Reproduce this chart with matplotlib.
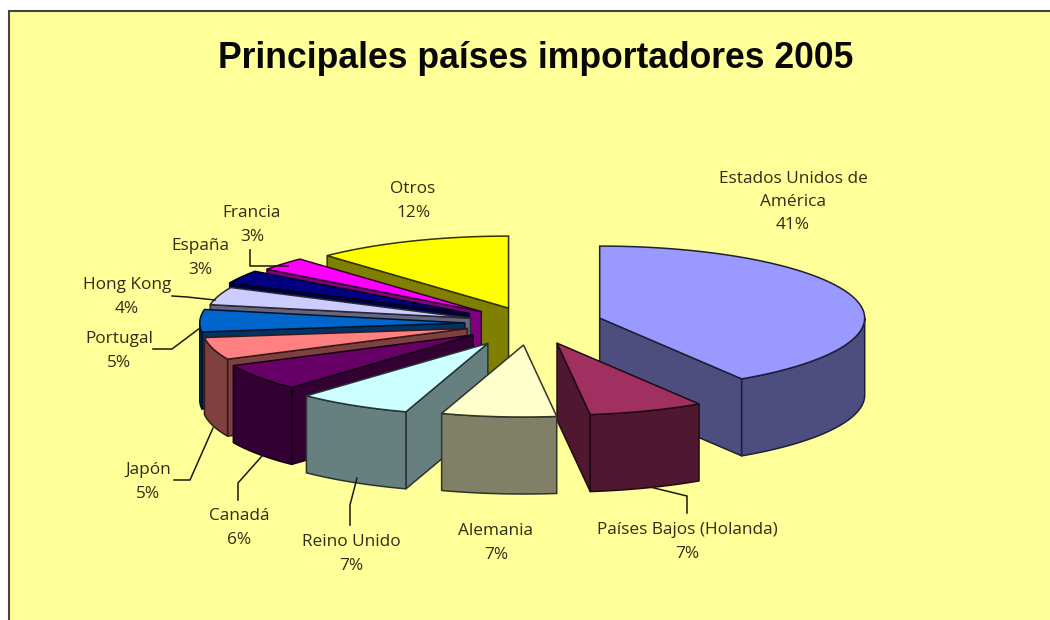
#!/usr/bin/python3

# exploded 3d pie, drawn by hand because matplotlib has no 3d pie

import numpy as np
import matplotlib
matplotlib.use('Agg')
from matplotlib import pyplot as plt
from matplotlib.patches import Polygon, Rectangle
from matplotlib.colors import to_rgb

title = "Principales países importadores 2005"
countries = ["Estados Unidos de\nAmérica", "Países Bajos (Holanda)", "Alemania", "Reino Unido",
             "Canadá", "Japón", "Portugal", "Hong Kong", "España", "Francia", "Otros"]
shares = [41, 7, 7, 7, 6, 5, 5, 4, 3, 3, 12]

colors = ["#9999FF", "#A0305F", "#FFFFCC", "#CCFFFF", "#660066", "#FF8080",
          "#0066CC", "#CCCCFF", "#000080", "#FF00FF", "#FFFF00"]
explode = [0.27, 0.29, 0.30, 0.32, 0.27, 0.25, 0.25, 0.24, 0.27, 0.25, 0.23]

# label centres in pixels, and the leader lines
label_pos = [(793, 202), (687, 542), (496, 543), (351, 554), (239, 528), (148, 482),
             (119, 351), (127, 297), (200, 258), (252, 225), (413, 201)]
leaders = [[(687, 513), (687, 496), (650, 487)],
           [(350, 525), (350, 505), (357, 478)],
           [(238, 500), (238, 483), (262, 456)],
           [(174, 480), (190, 480), (213, 428)],
           [(153, 349), (172, 349), (200, 328)],
           [(172, 296), (187, 297), (215, 300)],
           [(250, 250), (250, 266), (288, 266)]]

CX, CY = 531, 323.5
RX, RY = 265, 72
DEPTH = 77


def point(cx, cy, deg):
    rad = np.radians(deg)
    return cx + RX * np.sin(rad), cy - RY * np.cos(rad)


def arc(cx, cy, a, b, dy=0):
    degs = np.linspace(a, b, 60)
    x, y = point(cx, cy, degs)
    return np.column_stack([x, y + dy])


def draw_slice(ax, share_from, share_to, off, color):
    a = share_from * 3.6
    b = share_to * 3.6
    mid = (a + b) / 2
    cx = CX + RX * off * np.sin(np.radians(mid))
    cy = CY - RY * off * np.cos(np.radians(mid))

    rgb = np.array(to_rgb(color))
    side = rgb * 0.5
    edge = rgb * 0.2
    style = dict(facecolor=side, edgecolor=edge, linewidth=1.1, joinstyle='round')

    # flat faces, only those turned to the viewer
    for deg, visible in ((a, a > 180), (b, b < 180)):
        if visible:
            x, y = point(cx, cy, deg)
            ax.add_patch(Polygon([(cx, cy), (x, y), (x, y + DEPTH), (cx, cy + DEPTH)], **style))

    # round wall, front half only
    lo, hi = max(a, 90), min(b, 270)
    if lo < hi:
        ax.add_patch(Polygon(np.vstack([arc(cx, cy, lo, hi), arc(cx, cy, hi, lo, DEPTH)]), **style))

    ax.add_patch(Polygon(np.vstack([[(cx, cy)], arc(cx, cy, a, b)]),
                         facecolor=rgb, edgecolor=edge, linewidth=1.1))


fig = plt.figure(figsize=(10.5, 6.2), dpi=100, facecolor='white')
ax = fig.add_axes([0, 0, 1, 1])
ax.set_xlim(0, 1050)
ax.set_ylim(620, 0)
ax.axis('off')

ax.add_patch(Rectangle((9, 11), 1060, 630, facecolor='#FFFF99', edgecolor='#444444', linewidth=1.5))

ax.text(536, 59, title, ha='center', va='center', fontsize=25.6, fontweight='bold',
        family='Liberation Sans', color='#080808')

# back slices first, the ones nearest the bottom go on top
ends = np.cumsum(shares)
starts = ends - np.array(shares)
mids = (starts + ends) * 1.8
for i in np.argsort(-np.abs(mids - 180)):
    draw_slice(ax, starts[i], ends[i], explode[i], colors[i])

for line in leaders:
    xs, ys = zip(*line)
    ax.plot(xs, ys, color='#1a1a10', linewidth=1.1)

for name, share, (x, y) in zip(countries, shares, label_pos):
    ax.text(x, y, "{}\n{}%".format(name, share), ha='center', va='center', fontsize=12.4,
            family='Open Sans', color='#2e2e14', linespacing=1.6)

fig.savefig('out.png', dpi=100, facecolor='white')
